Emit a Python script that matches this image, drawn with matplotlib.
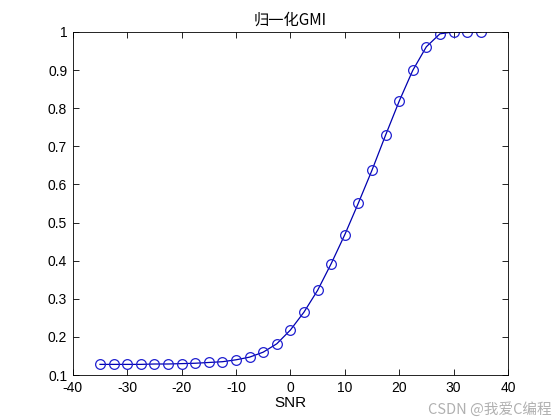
import matplotlib
matplotlib.use("Agg")
import matplotlib.pyplot as plt
import numpy as np

snr = [-35, -32.5, -30, -27.5, -25, -22.5, -20, -17.5, -15, -12.5, -10, -7.5, -5, -2.5,
       0, 2.5, 5, 7.5, 10, 12.5, 15, 17.5, 20, 22.5, 25, 27.5, 30, 32.5, 35]
gmi = [0.128, 0.128, 0.128, 0.128, 0.129, 0.129, 0.130, 0.131, 0.133, 0.135, 0.140, 0.147,
       0.160, 0.182, 0.218, 0.265, 0.322, 0.392, 0.468, 0.551, 0.637, 0.729, 0.818, 0.899,
       0.961, 0.995, 1.0, 1.0, 1.0]
x_ticks = [-40, -30, -20, -10, 0, 10, 20, 30, 40]
y_ticks = [0.1, 0.2, 0.3, 0.4, 0.5, 0.6, 0.7, 0.8, 0.9, 1.0]
y_labels = ["0.1", "0.2", "0.3", "0.4", "0.5", "0.6", "0.7", "0.8", "0.9", "1"]

plt.rcParams["font.family"] = ["Liberation Sans", "Noto Sans CJK SC", "DejaVu Sans"]
plt.rcParams["axes.unicode_minus"] = False

fig = plt.figure(figsize=(5.6, 4.2), dpi=100)
ax = fig.add_axes([0.13, 0.107, 0.777, 0.817])
ax.plot(snr, gmi, "-o", color="#0000b0", linewidth=0.9, markersize=7,
        markerfacecolor="none", markeredgecolor="#2020d0", markeredgewidth=0.9)

ax.set_xlim(-40, 40)
ax.set_ylim(0.1, 1.0)
ax.set_xticks(x_ticks)
ax.set_yticks(y_ticks)
ax.set_yticklabels(y_labels)
ax.tick_params(direction="in", top=True, right=True, labelsize=10, length=4, width=0.6, pad=4)
for spine in ax.spines.values():
    spine.set_linewidth(0.6)

ax.set_title("归一化GMI", fontsize=11, family=["Noto Sans CJK SC", "DejaVu Sans"], pad=5)
ax.set_xlabel("SNR", fontsize=11, labelpad=1)

# watermark sits just under the x tick labels
fig.text(0.985, 0.008, "CSDN @我爱C编程", ha="right", va="bottom", fontsize=10.5,
         color="#b0b0b0", family=["Noto Sans CJK SC", "DejaVu Sans"])

fig.savefig("out.png", dpi=100)
